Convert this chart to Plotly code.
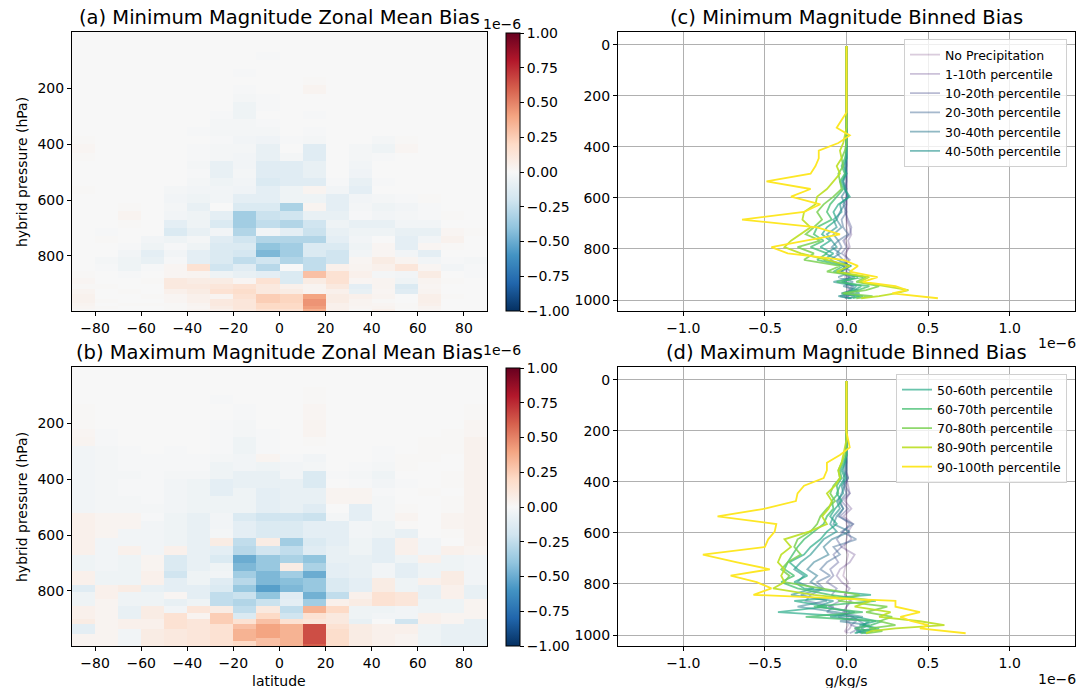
import plotly.graph_objects as go

# ---------------- data ----------------
SCALE = 1e-8  # all values below are in units of 1e-8

latitude = [-85, -75, -65, -55, -45, -35, -25, -15, -5, 5, 15, 25, 35, 45, 55, 65, 75, 85]
levels = [5, 17.5, 35, 57.5, 85, 115, 145, 175, 205, 235,
          265, 295, 325, 355, 385, 415, 445, 475, 505, 535,
          565, 595, 625, 655, 685, 715, 742.5, 767.5, 792.5, 817.5,
          842.5, 866.5, 889, 910, 929, 946, 961, 974, 985, 993]

zonal_min = [
    [0, 0, 0, 0, 0, 0, 0, 0, 0, 0, 0, 0, 0, 0, 0, 0, 0, 0],
    [0, 0, 0, 0, 0, 0, 0, 0, 0, 0, 0, 0, 0, 0, 0, 0, 0, 0],
    [0, 0, 0, 0, 0, 0, 0, 0, 0, 0, 0, 0, 0, 0, 0, 0, 0, 0],
    [0, 0, 0, 0, 0, 0, 0, 0, 0, 0, 0, 0, 0, 0, 0, 0, 0, 0],
    [0, 0, 0, 0, 0, 0, 0, 0, -1, 0, 0, 0, 0, 0, 0, 0, 0, 0],
    [0, 0, 0, 0, 0, 0, 0, 0, 0, 0, 0, 0, 0, 0, 0, 0, 0, 0],
    [0, 0, 0, 0, 0, 0, 0, -1, 0, 0, 0, 0, 0, 0, 0, 0, 0, 0],
    [0, 0, 0, 0, 0, 0, 0, 0, 0, 0, 1, 0, 0, 0, 0, 0, 0, 0],
    [0, 0, 0, 0, 0, 0, 0, -1, 0, 0, 3, 0, 0, 0, 0, 0, 0, 0],
    [0, 0, 0, 0, 0, 0, 0, -2, -1, 0, 0, 0, 0, 0, 0, 0, 0, 0],
    [0, 0, 0, 0, 0, 0, 0, -5, -1, 0, 0, 0, 0, 0, 0, 0, 0, 0],
    [0, 0, 0, 0, 0, 0, -1, -5, 0, 0, -1, 0, 0, 0, 0, 0, 0, 0],
    [0, 0, 0, 0, 0, 0, -2, -2, -1, 0, 0, 0, 0, 0, 0, 0, 0, 0],
    [0, 0, 0, 0, 0, -1, -2, -2, -2, 0, -1, 0, 0, 0, 0, 0, 0, 0],
    [1, 0, 0, 0, 0, 0, -1, -3, -4, -1, -2, 0, 0, -2, 1, 0, 0, 0],
    [2, 0, 0, 0, 0, -1, -2, -2, -8, 0, -12, 0, -2, -5, 2, 0, 0, 0],
    [1, 0, 0, 0, 0, -1, -2, -3, -8, -2, -12, 0, -2, -1, 0, 0, 0, 0],
    [0, 0, 0, 0, 0, -2, -8, -3, -12, -12, -8, 0, -3, 0, 0, 0, 0, 0],
    [0, 0, 0, 0, 0, -1, -8, -2, -12, -12, -8, 0, -4, 0, 0, 0, 0, 0],
    [0, 0, 0, 0, 0, -2, -5, -3, -15, -12, -12, -1, -8, -1, 0, 0, 0, 0],
    [1, 0, 0, 0, -2, -3, -3, -4, -10, -5, 3, -3, -10, 0, 0, 0, 0, 0],
    [0, 0, 0, 0, -3, -5, -3, -10, -10, -5, -5, -10, -3, -2, -1, 1, 0, 0],
    [0, 0, 1, 0, -2, -8, 0, -15, -15, -32, 3, -10, -2, -5, -3, -1, 0, 0],
    [0, 0, 3, 0, -3, -5, -10, -35, -22, -20, -8, -8, -1, -3, -2, -1, 1, 0],
    [0, 0, 1, 0, -10, -5, -15, -35, -25, -30, -20, -5, -8, -8, -3, -3, 0, 0],
    [0, -1, 0, 0, -15, -8, -3, -30, -3, -10, -22, -8, -5, -5, -8, -8, 2, 1],
    [0, 1, 0, -3, -5, -2, -12, -20, -30, -30, -30, -10, -3, 0, -10, -3, 4, 0],
    [0, 0, -1, -5, -1, -5, -15, -15, -40, -35, -15, -15, -5, 2, -10, 2, 1, 0],
    [0, 0, -3, -10, -3, -10, -15, -18, -45, -35, -15, -20, -3, 2, -3, -10, 0, 0],
    [0, -2, -5, -8, -1, -10, -15, -25, -20, -30, -25, -20, 2, 8, 3, -3, -1, -2],
    [0, -1, -5, -1, 2, 15, -20, -12, -28, 0, -25, 5, 3, 5, 12, 2, -3, -1],
    [1, 0, -1, 0, 2, 3, -5, -8, -10, -15, 30, 15, 5, -2, -3, 8, 0, -1],
    [2, 0, 0, 1, 10, 8, 8, 2, 15, -15, 8, 15, 2, 3, -5, 3, 1, 0],
    [1, 1, 0, 0, 10, 10, 12, 15, 10, 5, 3, 10, -10, 3, -15, 2, 0, 0],
    [3, 0, 1, 0, 5, 8, 15, 18, 10, 8, 3, 5, -8, 2, -12, 3, 0, 0],
    [4, 0, 0, 1, 2, 5, 3, 15, 25, 22, 40, 8, 5, 3, 0, 6, 1, 0],
    [4, 1, 0, 0, 2, 5, 10, 12, 25, 22, 45, 8, 3, 1, 0, 6, 0, 0],
    [3, 0, 1, 1, 1, 3, 10, 12, 20, 20, 45, 5, 3, 2, 1, 5, 0, 0],
    [2, 1, 0, 0, 1, 2, 8, 12, 20, 20, 42, 5, 2, 3, 1, 3, 0, 0],
    [1, 0, 0, 0, 1, 3, 5, 10, 15, 15, 35, 5, 1, 5, 0, 2, 0, 0],
]

zonal_max = [
    [0, 0, 0, 0, 0, 0, 0, 0, 0, 0, 0, 0, 0, 0, 0, 0, 0, 0],
    [0, 0, 0, 0, 0, 0, 0, 0, 0, 0, 0, 0, 0, 0, 0, 0, 0, 0],
    [0, 0, 0, 0, 0, 0, 0, 0, 0, 0, 0, 0, 0, 0, 0, 0, 0, 0],
    [0, 0, 0, 0, 0, 0, 0, 0, 0, 0, 0, 0, 0, 0, 0, 0, 0, 0],
    [0, 0, 0, 0, 0, 0, 0, 0, 0, 0, 1, 0, 0, 0, 0, 0, 0, 0],
    [0, 0, 0, 0, 0, 0, -1, 0, 0, 0, 1, 0, 0, 0, 0, 0, 0, 0],
    [1, 0, 0, 0, 0, 0, 0, -1, 0, 0, 2, 0, 0, 0, 0, 0, 0, 1],
    [1, 0, 0, 0, 0, 0, 0, -1, 0, 0, 2, 0, 0, 0, 0, 0, 0, 1],
    [1, 0, 0, 0, 0, 0, -1, -2, 0, 0, 3, 0, 0, 0, 0, 0, 0, 2],
    [2, -1, 0, 0, 0, 0, -1, -2, -1, 0, 3, 0, 0, 0, 0, 0, 1, 2],
    [3, -1, 0, 0, 0, 0, -1, -5, -1, 0, 1, 0, 0, 0, 0, 1, 1, 4],
    [-3, -2, -1, 0, -1, 0, -1, -5, -1, 0, 0, 0, 0, -1, 0, 1, 1, 4],
    [-3, -2, -1, -1, -1, -1, -2, -3, 3, -1, -3, 0, 0, -1, 1, 1, 0, 4],
    [-3, -2, -1, -1, -1, -1, -5, -3, -5, -3, -2, 0, -1, -2, 1, 0, 0, 4],
    [-3, -2, -2, -1, -2, -2, -5, -8, -8, -3, -15, -1, -2, -5, 0, 0, 1, 4],
    [-3, -2, -1, -1, -3, -5, -10, -8, -8, -8, -15, 0, -1, -3, -1, 0, 1, 4],
    [-3, -2, -1, -1, -3, -5, -10, -5, -10, -8, -8, 3, 3, -1, 0, 1, 0, 4],
    [-3, -2, -2, -1, -3, -5, -5, -5, -10, -8, -8, 3, 3, -2, 0, 0, 1, 4],
    [-3, -2, -2, -2, -3, -5, -5, -5, -10, -8, -12, 0, -10, -2, 1, 0, 1, 4],
    [5, 3, 3, -1, -5, -8, -3, -15, -20, -20, -22, -2, -10, -2, 3, 0, 3, 4],
    [5, 3, 3, -3, -5, -8, -3, -10, -15, -15, -10, -10, -3, -5, 1, 0, 3, 4],
    [5, 3, -3, -3, -5, -8, -2, -10, -15, -15, -10, -10, -3, -5, -8, 0, 1, 4],
    [5, -3, -3, -3, -5, -8, 8, -25, 8, -35, -15, -10, -5, -10, 5, -3, 0, 4],
    [5, -3, 5, -3, 5, -8, -10, -28, -20, -25, -12, -8, -5, -10, 5, -3, 5, 3],
    [-5, -3, -5, 3, -15, -8, -15, -50, -38, -32, -40, -8, -8, -10, -5, 5, -5, -3],
    [-5, -3, -5, 3, -15, -8, -5, -45, -38, 8, -32, -10, -8, -3, -10, -5, -5, -3],
    [5, -5, -5, 5, -20, -5, -3, -35, -45, -35, -50, -10, -8, -3, -10, -5, 8, -3],
    [5, -5, -5, 5, -10, -5, -12, -28, -45, -42, -38, -15, -10, 8, -5, 5, 8, -3],
    [-12, 5, 8, -8, -10, -10, -15, -38, -55, -45, -38, -15, -10, 8, -5, -8, 5, -8],
    [-5, 5, -5, -5, 2, -10, -25, -22, -40, -12, -48, -25, 5, 15, 12, -8, 5, -8],
    [-5, 3, -5, -5, -8, -5, -25, -30, -22, -10, -35, 5, 8, 15, 12, -5, -5, 3],
    [5, 3, -8, 8, -3, 12, 8, -25, 10, -25, 35, 20, -5, -5, -3, -5, -5, 3],
    [5, 3, -8, 8, 15, 3, 25, -15, 20, -20, 15, 10, -5, -3, -3, 5, 3, 3],
    [8, 3, 5, 5, 15, 12, 25, 15, 30, 15, 12, 10, -8, 0, -20, 5, 3, -8],
    [-10, 3, 5, 5, 15, 12, 15, 30, 40, 35, 65, 15, 8, 5, 5, -5, -8, -8],
    [-10, 3, -3, 8, 10, 12, 15, 35, 40, 35, 65, 18, 8, 5, 5, -5, -8, -8],
    [3, 3, -3, 8, 10, 12, 15, 35, 40, 35, 65, 18, 8, 5, 3, -5, -8, -8],
    [3, 3, -3, 8, 10, 12, 15, 35, 30, 35, 65, 18, 8, 5, 3, -5, -8, -8],
    [3, 3, -3, 8, 10, 12, 15, 20, 30, 35, 65, 18, 8, 5, 3, -5, -8, -8],
    [3, 3, -3, 8, 10, 12, 15, 20, 30, 35, 60, 18, 8, 5, 3, -5, -8, -8],
]

bin_labels = ["No Precipitation", "1-10th percentile", "10-20th percentile",
              "20-30th percentile", "30-40th percentile", "40-50th percentile",
              "50-60th percentile", "60-70th percentile", "70-80th percentile",
              "80-90th percentile", "90-100th percentile"]

# (c) minimum magnitude binned bias, one list per bin (top level -> surface)
min_noprecip = [0, 0, 0, 0, 0, 0, 0, 0, 0, 0, 0, 0, 0, 0, 0, 0, 0, 0, 0, 0,
                0, 0, 0, 0, 0, 0, 1, -1, 1, 0, -1, 1, 0, -1, 1, 0, 1, 0, -1, 0]
min_p1_10 = [0, 0, 0, 0, 0, 0, 0, 0, 0, 0, 0, 0, 0, 0, 0, 0, 0, 0, 0, 0,
             0, 0, 0, 0, 0, 2, 3, 1, 2, -1, 1, -2, 0, 2, -1, 1, 2, 0, 1, 0]
min_p10_20 = [0, 0, 0, 0, 0, 0, 0, 0, 0, 0, 0, 0, 0, 0, 0, 0, 0, 0, 0, 0,
              0, 0, 0, -1, 1, 3, 2, -2, 0, -3, 2, -1, -3, 1, -2, 3, 2, 4, 1, -1]
min_p20_30 = [0, 0, 0, 0, 0, 0, 0, 0, 0, 0, 0, 0, 0, 0, 0, 0, 0, 0, 0, 0,
              -1, 1, -2, 0, -3, -2, 1, -5, -3, -6, -2, 1, -4, 2, -1, 4, 3, -3, 5, 2]
min_p30_40 = [0, 0, 0, 0, 0, 0, 0, 0, 0, 0, 0, 0, 0, 0, 0, 0, 0, 0, -1, -2,
              0, -3, -1, -4, -6, -3, -8, -5, -9, -4, -10, -2, 3, -5, 4, -2, 7, 2, -4, 3]
min_p40_50 = [0, 0, 0, 0, 0, 0, 0, 0, 0, 0, 0, 0, 0, 0, 0, 0, 0, -1, 0, -2,
              -1, 1, -4, -3, -8, -6, -12, -9, -6, -13, -5, 2, -3, 5, -8, 6, 3, 8, -5, 2]
min_p50_60 = [0, 0, 0, 0, 0, 0, 0, 0, 0, 0, 0, 0, 0, 0, 0, 0, 0, -2, 0, -3,
              -1, 2, -5, -8, -6, -12, -15, -10, -16, -8, -14, 3, -6, 7, -3, 9, 5, -2, 8, 1]
min_p60_70 = [0, 0, 0, 0, 0, 0, 0, 0, 0, 0, 0, 0, 0, 0, 0, 0, -1, -3, -1, -4,
              -2, -6, -10, -12, -9, -18, -20, -14, -22, -12, -18, -2, -8, 10, -6, 14, 7, -3, 10, 4]
min_p70_80 = [0, 0, 0, 0, 0, 0, 0, 0, 0, 0, 0, 0, 0, 0, 0, -1, -3, -2, -5, -4,
              -3, -8, -14, -18, -15, -20, -25, -16, -30, -20, -26, -4, -12, 12, 6, 20, 12, -2, 16, 6]
min_p80_90 = [0, 0, 0, 0, 0, 0, 0, 0, 0, 0, 0, 0, 0, -1, -2, -4, -3, -6, -4, -8,
              -12, -18, -19, -26, -27, -22, -28, -34, -38, -28, -12, 2, -6, 14, 8, 25, 38, 30, 20, 9]
min_p90_100 = [0, 0, 0, 0, 0, 0, 0, 0, 0, 0, 0, -3, -6, 2, -5, -17, -17, -19, -22, -49,
               -22, -34, -16, -26, -64, -18, -4, -25, -46, -36, -2, 7, 2, 19, 10, 30, 37, 28, 45, 56]

# (d) maximum magnitude binned bias
max_noprecip = [0, 0, 0, 0, 0, 0, 0, 0, 0, 0, 0, 0, 0, 0, 0, 0, 0, 0, 0, 0,
                0, 1, 0, -1, 1, 0, -1, -2, 1, 0, -1, 2, 0, -1, 1, 0, 1, 0, -1, 0]
max_p1_10 = [0, 0, 0, 0, 0, 0, 0, 0, 0, 0, 0, 0, 0, 0, 0, 1, 2, -1, 3, -2,
             4, 1, 3, -3, 5, 2, -4, -6, -3, 2, -1, 3, 0, -2, 4, 1, 3, 2, 0, 1]
max_p10_20 = [0, 0, 0, 0, 0, 0, 0, 0, 0, 0, 0, 0, 0, 0, 1, -1, 2, -3, 1, -4,
              2, -2, -6, -3, -8, -5, -10, -8, -12, -6, -9, -4, -11, 2, -5, 6, 3, 8, 4, 2]
max_p20_30 = [0, 0, 0, 0, 0, 0, 0, 0, 0, 0, 0, 0, 0, -1, 1, -2, 0, -4, -2, -5,
              4, -3, 6, -8, -4, -12, -16, -10, -18, -14, -22, -25, -8, -12, 4, 8, 12, 5, 9, 6]
max_p30_40 = [0, 0, 0, 0, 0, 0, 0, 0, 0, 0, 0, 0, 0, 0, -2, -1, -3, -5, -2, -6,
              -8, 2, -9, -14, -11, -20, -24, -18, -22, -15, -28, -12, -30, -6, 10, -4, 14, 9, 12, 8]
max_p40_50 = [0, 0, 0, 0, 0, 0, 0, 0, 0, 0, 0, 0, -1, -2, 0, -3, -2, -6, -4, -8,
              -10, -6, -14, -18, -22, -28, -32, -26, -30, -20, -34, -8, -18, 5, -10, 14, 10, 18, 6, 12]
max_p50_60 = [0, 0, 0, 0, 0, 0, 0, 0, 0, 0, 0, 0, -1, -3, -1, -4, -6, -3, -7, -10,
              -6, -12, -16, -22, -26, -35, -30, -24, -32, -26, 15, -32, -12, -42, 6, 18, 8, 20, 10, 5]
max_p60_70 = [0, 0, 0, 0, 0, 0, 0, 0, 0, 0, 0, 0, -2, -4, -3, -6, -5, -9, -8, -12,
              -14, -20, -26, -30, -33, -36, -38, -32, -40, -30, -10, 18, -20, 10, -25, 22, 15, 5, 16, 9]
max_p70_80 = [0, 0, 0, 0, 0, 0, 0, 0, 0, 0, 0, -1, -3, -5, -4, -8, -10, -7, -12, -16,
              -18, -22, -30, -32, -28, -36, -40, -35, -38, -15, 8, -5, 25, 12, 28, 20, 30, 14, 22, 12]
max_p80_90 = [0, 0, 0, 0, 0, 0, 0, 0, 0, 0, -1, -2, -3, -5, -4, -7, -12, -9, -11, -15,
              -12, -23, -38, -34, -40, -42, -38, -40, -38, -45, -20, 15, 5, 27, 20, 45, 60, 30, 15, 12]
max_p90_100 = [0, 0, 0, 0, 0, 0, 0, 0, 0, 1, 2, -4, -12, -12, -14, -26, -30, -31, -50, -79,
               -43, -44, -48, -50, -88, -67, -47, -71, -55, -46, -57, 30, 30, 45, 33, 40, 50, 45, 60, 73]

min_bins = [min_noprecip, min_p1_10, min_p10_20, min_p20_30, min_p30_40, min_p40_50,
            min_p50_60, min_p60_70, min_p70_80, min_p80_90, min_p90_100]
max_bins = [max_noprecip, max_p1_10, max_p10_20, max_p20_30, max_p30_40, max_p40_50,
            max_p50_60, max_p60_70, max_p70_80, max_p80_90, max_p90_100]

for s in min_bins + max_bins:
    assert len(s) == len(levels), len(s)
for row in zonal_min + zonal_max:
    assert len(row) == len(latitude)
assert len(zonal_min) == len(levels) and len(zonal_max) == len(levels)

# ---------------- style ----------------
viridis11 = ["#440154", "#482475", "#414487", "#355f8d", "#2a788e", "#21918c",
             "#22a884", "#44bf70", "#7ad151", "#bddf26", "#fde725"]
alphas = [0.2, 0.28, 0.36, 0.44, 0.52, 0.6, 0.68, 0.76, 0.84, 0.92, 1.0]


def rgba(hexc, a):
    h = hexc.lstrip("#")
    return "rgba(%d,%d,%d,%.2f)" % (int(h[0:2], 16), int(h[2:4], 16), int(h[4:6], 16), a)


rdbu_r = ["#053061", "#2166ac", "#4393c3", "#92c5de", "#d1e5f0", "#f7f7f7",
          "#fddbc7", "#f4a582", "#d6604d", "#b2182b", "#67001f"]
colorscale = [[i / 10, c] for i, c in enumerate(rdbu_r)]

W, H = 1088, 688
FONT = "DejaVu Sans"
TICK = 14
TITLE = 19.5


def px_x(x):
    return x / W


def px_y(y):
    return 1 - y / H


AX = [px_x(72), px_x(487)]
CX = [px_x(618), px_x(1075)]
TOPY = [px_y(311), px_y(32)]
BOTY = [px_y(646), px_y(367)]

cb_vals = [-1e-6, -0.75e-6, -0.5e-6, -0.25e-6, 0, 0.25e-6, 0.5e-6, 0.75e-6, 1e-6]
cb_text = ["\u22121.00", "\u22120.75", "\u22120.50", "\u22120.25", "0.00", "0.25", "0.50", "0.75", "1.00"]


def colorbar(top, bottom):
    return dict(x=px_x(506), xanchor="left", xpad=0, ypad=0,
                y=px_y((top + bottom) / 2), yanchor="middle",
                len=(bottom - top) / H, lenmode="fraction",
                thickness=14, thicknessmode="pixels",
                outlinewidth=1, outlinecolor="black",
                tickvals=cb_vals, ticktext=cb_text, ticks="outside",
                ticklen=4, tickcolor="black",
                tickfont=dict(family=FONT, size=TICK, color="black"))


fig = go.Figure()

fig.add_trace(go.Heatmap(x=latitude, y=levels, z=[[v * SCALE for v in r] for r in zonal_min],
                         colorscale=colorscale, zmin=-1e-6, zmax=1e-6,
                         colorbar=colorbar(33, 311), xaxis="x", yaxis="y"))
fig.add_trace(go.Heatmap(x=latitude, y=levels, z=[[v * SCALE for v in r] for r in zonal_max],
                         colorscale=colorscale, zmin=-1e-6, zmax=1e-6,
                         colorbar=colorbar(368, 646), xaxis="x3", yaxis="y3"))

for i, (lab, vals) in enumerate(zip(bin_labels, min_bins)):
    fig.add_trace(go.Scatter(x=[v * SCALE for v in vals], y=levels, mode="lines",
                             line=dict(color=rgba(viridis11[i], alphas[i]), width=1.8),
                             name=lab, legend="legend", showlegend=(i < 6),
                             xaxis="x2", yaxis="y2"))
for i, (lab, vals) in enumerate(zip(bin_labels, max_bins)):
    fig.add_trace(go.Scatter(x=[v * SCALE for v in vals], y=levels, mode="lines",
                             line=dict(color=rgba(viridis11[i], alphas[i]), width=1.8),
                             name=lab, legend="legend2", showlegend=(i >= 6),
                             xaxis="x4", yaxis="y4"))

base = dict(showline=True, linecolor="black", linewidth=1, mirror=True,
            ticks="outside", ticklen=4, tickwidth=1, tickcolor="black",
            tickfont=dict(family=FONT, size=TICK, color="black"),
            zeroline=False, showgrid=False)
grid = dict(showgrid=True, gridcolor="#b0b0b0", gridwidth=1)

lat_ticks = [-80, -60, -40, -20, 0, 20, 40, 60, 80]
lat_text = ["\u221280", "\u221260", "\u221240", "\u221220", "0", "20", "40", "60", "80"]
bias_ticks = [-1e-6, -0.5e-6, 0, 0.5e-6, 1e-6]
bias_text = ["\u22121.0", "\u22120.5", "0.0", "0.5", "1.0"]

legend_style = dict(bgcolor="rgba(255,255,255,0.8)", bordercolor="#d0d0d0", borderwidth=1,
                    font=dict(family=FONT, size=12.5, color="black"), tracegroupgap=0,
                    itemwidth=30, xanchor="right", yanchor="top")

fig.update_layout(
    width=W, height=H, margin=dict(l=0, r=0, t=0, b=0),
    paper_bgcolor="white", plot_bgcolor="white",
    font=dict(family=FONT, size=TICK, color="black"),
    xaxis=dict(base, domain=AX, anchor="y", range=[-90, 90], tickvals=lat_ticks, ticktext=lat_text),
    yaxis=dict(base, domain=TOPY, anchor="x", range=[997, -1.25], tickvals=[200, 400, 600, 800]),
    xaxis3=dict(base, domain=AX, anchor="y3", range=[-90, 90], tickvals=lat_ticks, ticktext=lat_text),
    yaxis3=dict(base, domain=BOTY, anchor="x3", range=[997, -1.25], tickvals=[200, 400, 600, 800]),
    xaxis2=dict(base, **grid, domain=CX, anchor="y2", range=[-1.4e-6, 1.4e-6],
                tickvals=bias_ticks, ticktext=bias_text),
    yaxis2=dict(base, **grid, domain=TOPY, anchor="x2", range=[1043, -50],
                tickvals=[0, 200, 400, 600, 800, 1000]),
    xaxis4=dict(base, **grid, domain=CX, anchor="y4", range=[-1.4e-6, 1.4e-6],
                tickvals=bias_ticks, ticktext=bias_text),
    yaxis4=dict(base, **grid, domain=BOTY, anchor="x4", range=[1043, -50],
                tickvals=[0, 200, 400, 600, 800, 1000]),
    legend=dict(legend_style, x=px_x(1067), y=px_y(39)),
    legend2=dict(legend_style, x=px_x(1067), y=px_y(374)),
)

ann = []


def text(x, y, s, size=TICK, **kw):
    ann.append(dict(x=px_x(x), y=px_y(y), xref="paper", yref="paper", text=s,
                    xanchor="center", yanchor="middle",
                    showarrow=False, font=dict(family=FONT, size=size, color="black"), **kw))


text(279, 17, "(a) Minimum Magnitude Zonal Mean Bias", size=TITLE)
text(279, 352, "(b) Maximum Magnitude Zonal Mean Bias", size=TITLE)
text(846, 17, "(c) Minimum Magnitude Binned Bias", size=TITLE)
text(846, 352, "(d) Maximum Magnitude Binned Bias", size=TITLE)
text(502, 24, "1e\u22126")
text(502, 350, "1e\u22126")
text(1057, 343, "1e\u22126")
text(1057, 679, "1e\u22126")
text(22, 172, "hybrid pressure (hPa)", textangle=-90)
text(22, 507, "hybrid pressure (hPa)", textangle=-90)
text(279, 681, "latitude")
text(846, 681, "g/kg/s")
fig.update_layout(annotations=ann)

fig.write_html("out.html")
